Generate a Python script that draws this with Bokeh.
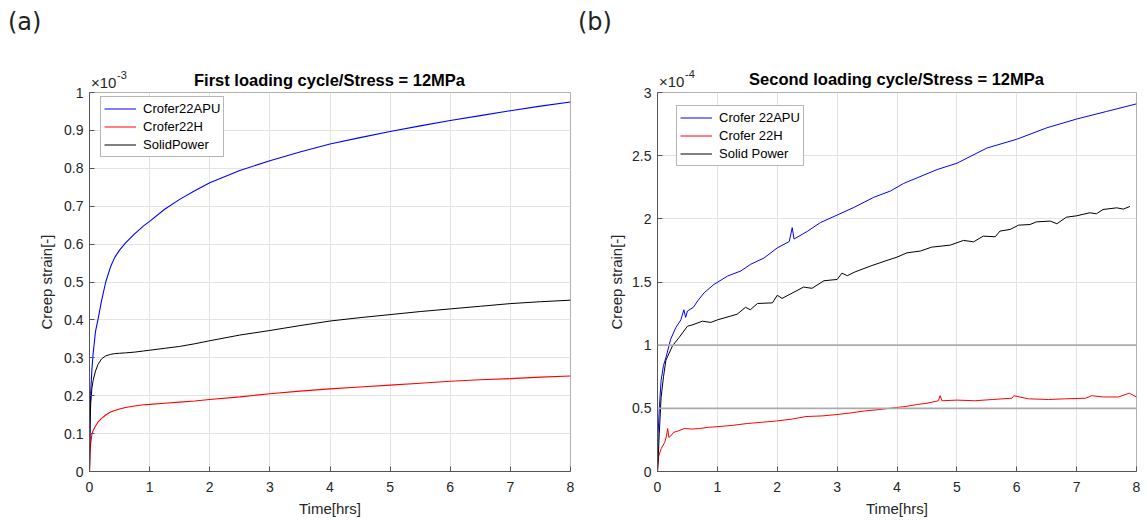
from bokeh.plotting import figure
from bokeh.models import Range1d, FixedTicker, Span, Div
from bokeh.layouts import row, column
from bokeh.embed import file_html
from bokeh.resources import INLINE

# ---------------- data (a): first loading cycle, strain x 1e-3 ----------------
time_a = [0, 0.01, 0.02, 0.04, 0.06, 0.1, 0.14, 0.2, 0.27, 0.35, 0.42, 0.5, 0.6, 0.75, 0.9,
          1.0, 1.25, 1.5, 1.75, 2.0, 2.5, 3.0, 3.5, 4.0, 4.5, 5.0, 5.5, 6.0, 6.5, 7.0, 7.5, 8.0]
apu_a = [0, 0.15, 0.21, 0.27, 0.31, 0.37, 0.40, 0.45, 0.50, 0.54, 0.565, 0.584, 0.603, 0.627,
         0.648, 0.66, 0.692, 0.718, 0.741, 0.762, 0.794, 0.82, 0.843, 0.864, 0.881, 0.897,
         0.912, 0.926, 0.939, 0.952, 0.964, 0.975]
h_a = [0, 0.05, 0.075, 0.098, 0.108, 0.12, 0.13, 0.14, 0.149, 0.157, 0.161, 0.165, 0.169,
       0.173, 0.176, 0.177, 0.18, 0.183, 0.186, 0.19, 0.197, 0.205, 0.212, 0.218, 0.223,
       0.228, 0.233, 0.238, 0.242, 0.245, 0.249, 0.252]
sp_a = [0, 0.12, 0.18, 0.22, 0.24, 0.265, 0.282, 0.297, 0.305, 0.309, 0.311, 0.312, 0.313,
        0.315, 0.318, 0.32, 0.325, 0.33, 0.337, 0.345, 0.36, 0.372, 0.385, 0.397, 0.406,
        0.414, 0.422, 0.429, 0.436, 0.443, 0.448, 0.452]

# ---------------- data (b): second loading cycle, strain x 1e-4 ----------------
time_b_apu = [0, 0.01, 0.03, 0.06, 0.1, 0.14, 0.22, 0.305, 0.39, 0.44, 0.47, 0.5, 0.6, 0.67,
              0.78, 0.94, 1.17, 1.39, 1.555, 1.78, 2.0, 2.2, 2.25, 2.28, 2.5, 2.72, 3.0,
              3.28, 3.61, 3.89, 4.11, 4.67, 5.0, 5.5, 6.0, 6.5, 7.0, 7.5, 8.0]
apu_b = [0.05, 0.3, 0.5, 0.72, 0.84, 0.9, 1.047, 1.138, 1.2, 1.28, 1.22, 1.27, 1.3, 1.35,
         1.415, 1.48, 1.547, 1.587, 1.64, 1.69, 1.77, 1.82, 1.93, 1.84, 1.90, 1.97, 2.03,
         2.09, 2.17, 2.22, 2.28, 2.39, 2.44, 2.56, 2.63, 2.72, 2.79, 2.85, 2.91]

time_b_h = [0, 0.02, 0.06, 0.12, 0.15, 0.17, 0.19, 0.22, 0.27, 0.34, 0.45, 0.58, 0.7, 0.85,
            1.01, 1.25, 1.5, 1.75, 1.99, 2.25, 2.48, 2.75, 2.98, 3.25, 3.47, 3.7, 3.96, 4.15,
            4.33, 4.5, 4.69, 4.72, 4.75, 5.0, 5.3, 5.6, 5.92, 5.95, 6.2, 6.53, 6.8, 7.15,
            7.25, 7.45, 7.7, 7.88, 7.94, 8.0]
h_b = [0.0, 0.12, 0.18, 0.23, 0.28, 0.34, 0.27, 0.28, 0.31, 0.32, 0.34, 0.336, 0.34, 0.35,
       0.355, 0.365, 0.38, 0.39, 0.40, 0.415, 0.435, 0.44, 0.45, 0.465, 0.48, 0.49, 0.505,
       0.515, 0.53, 0.54, 0.56, 0.6, 0.56, 0.565, 0.56, 0.57, 0.58, 0.6, 0.575, 0.57, 0.575,
       0.58, 0.6, 0.59, 0.59, 0.62, 0.605, 0.59]

time_b_sp = [0, 0.03, 0.06, 0.1, 0.14, 0.25, 0.36, 0.5, 0.58, 0.75, 0.89, 1.0, 1.33, 1.47,
             1.55, 1.67, 1.92, 2.0, 2.08, 2.44, 2.58, 2.78, 3.0, 3.08, 3.17, 3.3, 3.555,
             3.833, 4.0, 4.167, 4.39, 4.58, 4.89, 5.11, 5.28, 5.44, 5.64, 5.72, 5.89, 6.03,
             6.22, 6.33, 6.56, 6.67, 6.83, 7.0, 7.22, 7.33, 7.44, 7.67, 7.78, 7.89]
sp_b = [0, 0.3, 0.585, 0.75, 0.88, 0.995, 1.06, 1.15, 1.16, 1.19, 1.18, 1.2, 1.245, 1.30,
        1.28, 1.33, 1.335, 1.395, 1.37, 1.46, 1.45, 1.51, 1.52, 1.57, 1.55, 1.58, 1.626,
        1.671, 1.697, 1.731, 1.745, 1.776, 1.792, 1.829, 1.818, 1.863, 1.858, 1.903, 1.916,
        1.95, 1.955, 1.976, 1.982, 1.961, 2.013, 2.024, 2.048, 2.04, 2.074, 2.087, 2.077,
        2.098]

# ---------------- ticks / labels / texts ----------------
x_ticks = [0, 1, 2, 3, 4, 5, 6, 7, 8]
x_labels = ["0", "1", "2", "3", "4", "5", "6", "7", "8"]
ya_ticks = [0, 0.1, 0.2, 0.3, 0.4, 0.5, 0.6, 0.7, 0.8, 0.9, 1]
ya_labels = ["0", "0.1", "0.2", "0.3", "0.4", "0.5", "0.6", "0.7", "0.8", "0.9", "1"]
yb_ticks = [0, 0.5, 1, 1.5, 2, 2.5, 3]
yb_labels = ["0", "0.5", "1", "1.5", "2", "2.5", "3"]
ref_lines_b = [0.5, 1.0]
title_a = "First loading cycle/Stress = 12MPa"
title_b = "Second loading cycle/Stress = 12MPa"
names_a = ["Crofer22APU", "Crofer22H", "SolidPower"]
names_b = ["Crofer 22APU", "Crofer 22H", "Solid Power"]

FONT = "Liberation Sans"
TXT = "#262626"


def style(p, yticks, ylabels, ylabel_standoff):
    p.xaxis.ticker = FixedTicker(ticks=x_ticks)
    p.yaxis.ticker = FixedTicker(ticks=yticks)
    p.xaxis.major_label_overrides = {t: l for t, l in zip(x_ticks, x_labels)}
    p.yaxis.major_label_overrides = {t: l for t, l in zip(yticks, ylabels)}
    for ax in (p.xaxis, p.yaxis):
        ax.major_label_text_font = FONT
        ax.major_label_text_font_size = "14px"
        ax.major_label_text_color = TXT
        ax.axis_label_text_font = FONT
        ax.axis_label_text_font_size = "15px"
        ax.axis_label_text_font_style = "normal"
        ax.axis_label_text_color = TXT
        ax.axis_line_color = "#555555"
        ax.major_tick_in = 5
        ax.major_tick_out = 0
        ax.major_tick_line_color = "#555555"
        ax.minor_tick_line_color = None
    p.xaxis.major_label_standoff = 10
    p.yaxis.major_label_standoff = 6
    p.xaxis.axis_label = "Time[hrs]"
    p.yaxis.axis_label = "Creep strain[-]"
    p.xaxis.axis_label_standoff = 5
    p.yaxis.axis_label_standoff = ylabel_standoff
    p.xgrid.grid_line_color = "#e3e3e3"
    p.ygrid.grid_line_color = "#e3e3e3"
    p.outline_line_color = "#b0b0b0"
    p.border_fill_alpha = 0.0


def style_legend(p, loc):
    lg = p.legend[0]
    lg.location = loc
    lg.label_text_font = FONT
    lg.label_text_font_size = "13px"
    lg.label_text_color = "#000000"
    lg.glyph_width = 32
    lg.glyph_height = 17
    lg.label_height = 17
    lg.label_standoff = 7
    lg.spacing = 1
    lg.padding = 3
    lg.margin = 0
    lg.border_line_color = "#707070"
    lg.border_line_width = 1
    lg.background_fill_alpha = 1.0


# ---------------- figure (a) ----------------
pa = figure(width=578, height=435, output_backend="svg", toolbar_location=None,
            x_range=Range1d(0, 8), y_range=Range1d(0, 1),
            min_border_left=89, min_border_right=8, min_border_top=6, min_border_bottom=49)
style(pa, ya_ticks, ya_labels, 6)
pa.line(time_a, apu_a, line_color="#0000ff", line_width=1.1, legend_label=names_a[0])
pa.line(time_a, h_a, line_color="#ff0000", line_width=1.1, legend_label=names_a[1])
pa.line(time_a, sp_a, line_color="#000000", line_width=1.0, legend_label=names_a[2])
style_legend(pa, (11, 314))

# ---------------- figure (b) ----------------
pb = figure(width=568, height=435, output_backend="svg", toolbar_location=None,
            x_range=Range1d(0, 8), y_range=Range1d(0, 3),
            min_border_left=79, min_border_right=10, min_border_top=5, min_border_bottom=50)
style(pb, yb_ticks, yb_labels, 4)
for v in ref_lines_b:
    pb.add_layout(Span(location=v, dimension="width", line_color="#ababab", line_width=1.6))
pb.line(time_b_apu, apu_b, line_color="#0000ff", line_width=1.0, legend_label=names_b[0])
pb.line(time_b_h, h_b, line_color="#ff0000", line_width=1.0, legend_label=names_b[1])
pb.line(time_b_sp, sp_b, line_color="#000000", line_width=1.0, legend_label=names_b[2])
style_legend(pb, (19, 305))

# ---------------- header texts (panel letters, titles, exponent) ----------------
def span(text, left, top, size, family, extra=""):
    return ('<span style="position:absolute;left:%dpx;top:%dpx;font-family:\'%s\';'
            'font-size:%spx;line-height:%spx;white-space:nowrap;%s">%s</span>'
            % (left, top, family, size, size, extra, text))


def title_box(text, left, width, top):
    return ('<div style="position:absolute;left:%dpx;top:%dpx;width:%dpx;text-align:center;'
            'font-family:\'%s\';font-size:16.5px;line-height:16px;font-weight:bold;'
            'color:#000;white-space:nowrap;">%s</div>' % (left, top, width, FONT, text))


html = ('<div style="position:relative;width:1146px;height:86px;overflow:visible;">'
        + span("(a)", 8, 10, 24, "DejaVu Sans", "color:#222;")
        + span("(b)", 578, 10, 24, "DejaVu Sans", "color:#222;")
        + title_box(title_a, 89, 481, 72)
        + title_box(title_b, 657, 479, 71)
        + span("×10", 91, 75, 15, FONT, "color:%s;" % TXT)
        + span("-3", 117, 70, 11, FONT, "color:%s;" % TXT)
        + span("×10", 659, 74, 15, FONT, "color:%s;" % TXT)
        + span("-4", 685, 69, 11, FONT, "color:%s;" % TXT)
        + '</div>')
header = Div(text=html, width=1146, height=86, margin=(0, 0, 0, 0),
             styles={"overflow": "visible"})

layout = column(header, row(pa, pb))
open("out.html", "w").write(file_html(layout, INLINE))
